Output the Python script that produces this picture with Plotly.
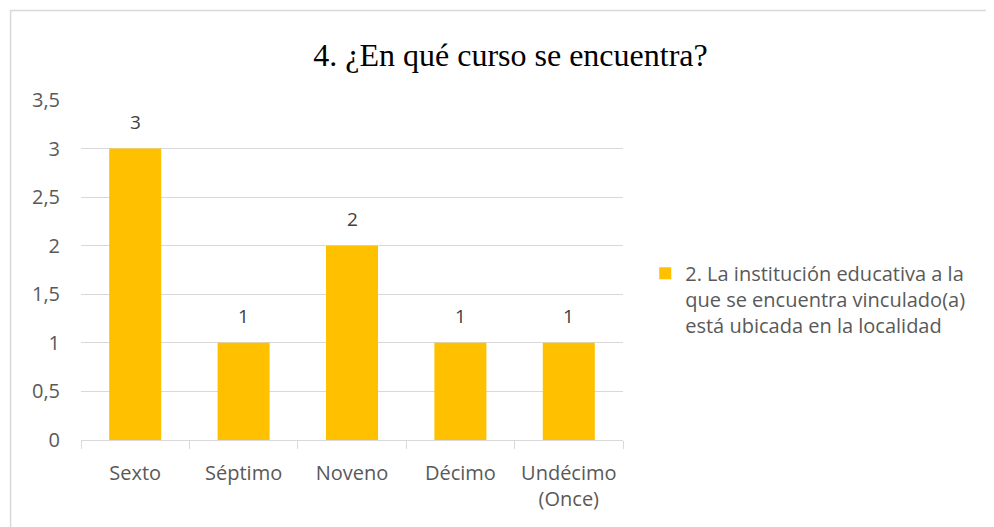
import plotly.graph_objects as go

categories = ["Sexto", "Séptimo", "Noveno", "Décimo", "Undécimo<br>(Once)"]
values = [3, 1, 2, 1, 1]
series_name = "2. La institución educativa a la<br>que se encuentra vinculado(a)<br>está ubicada en la localidad"
y_tickvals = [0, 0.5, 1, 1.5, 2, 2.5, 3, 3.5]
y_ticktext = ["0", "0,5", "1", "1,5", "2", "2,5", "3", "3,5"]
title_text = "4. ¿En qué curso se encuentra?"

font_sans = "Open Sans, Liberation Sans, sans-serif"

fig = go.Figure()
fig.add_trace(go.Bar(
    x=categories, y=values, name=series_name,
    marker=dict(color="#FFC000", line=dict(width=0)),
    showlegend=True,
))

for c, v in zip(categories, values):
    fig.add_annotation(x=c, y=v, text=str(v), showarrow=False, yshift=27,
                       yanchor="middle", xanchor="center",
                       font=dict(family=font_sans, size=19, color="#404040"))

fig.update_layout(
    width=986, height=519,
    margin=dict(l=73, r=371, t=92, b=87),
    paper_bgcolor="white", plot_bgcolor="white",
    bargap=0.52,
    title=dict(text=title_text, x=0.5096, xanchor="center", y=0.909, yanchor="middle",
               font=dict(family="Liberation Serif, Times New Roman, serif", size=32, color="#000000")),
    xaxis=dict(showgrid=False, showline=True, linecolor="#D9D9D9", linewidth=1,
               ticks="outside", tickcolor="#D9D9D9", ticklen=8, tickson="boundaries",
               ticklabelstandoff=15,
               tickfont=dict(family=font_sans, size=20, color="#595959")),
    yaxis=dict(range=[0, 3.5], tickvals=y_tickvals, ticktext=y_ticktext,
               showgrid=True, gridcolor="#D9D9D9", gridwidth=1, zeroline=False,
               showline=False, ticks="", ticklabelstandoff=20,
               tickfont=dict(family=font_sans, size=20, color="#595959")),
    legend=dict(x=1.041, xanchor="left", y=0.548, yanchor="top", valign="top",
                font=dict(family=font_sans, size=20, color="#595959"),
                itemwidth=30, bgcolor="rgba(0,0,0,0)"),
    shapes=[dict(type="rect", xref="paper", yref="paper",
                 x0=-0.130, x1=1.696, y0=-0.294, y1=1.263,
                 line=dict(color="#D9D9D9", width=1.5), fillcolor="rgba(0,0,0,0)", layer="below")],
)

fig.write_html("out.html")
